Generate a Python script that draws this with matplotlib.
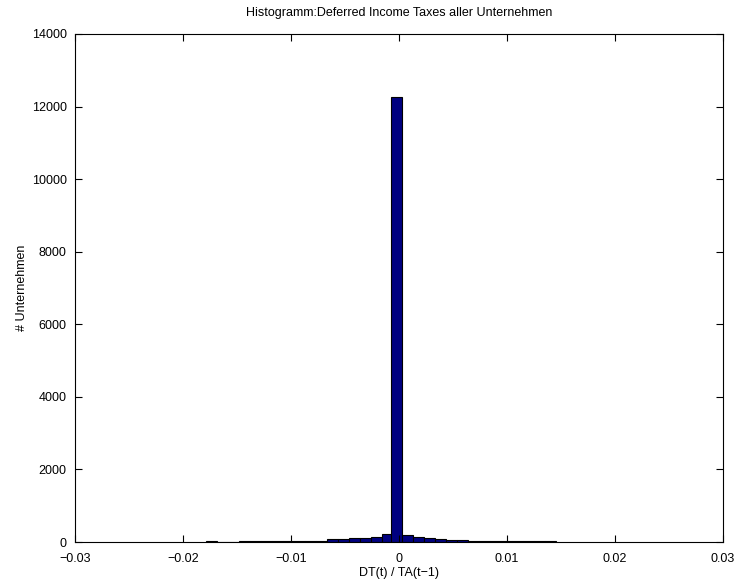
import numpy as np
import matplotlib
matplotlib.use("Agg")
import matplotlib.pyplot as plt

# Histogram data (bin width ~0.00102)
bin_width = 0.00102
bin_centers = [-0.01733, -0.01631, -0.01529, -0.01427, -0.01325, -0.01223,
               -0.01121, -0.01019, -0.00917, -0.00815, -0.00713, -0.00611,
               -0.00509, -0.00407, -0.00305, -0.00203, -0.00101, -0.00023,
               0.00079, 0.00181, 0.00283, 0.00385, 0.00487, 0.00589,
               0.00691, 0.00793, 0.00895, 0.00997, 0.01099, 0.01201,
               0.01303, 0.01405]
counts = [30, 0, 0, 20, 20, 25, 25, 25, 30, 30, 35, 70,
          80, 100, 120, 140, 220, 12250, 200, 150, 110, 70,
          60, 50, 25, 20, 20, 20, 20, 20, 20, 15]

xticks = [-0.03, -0.02, -0.01, 0, 0.01, 0.02, 0.03]
xticklabels = ["\u22120.03", "\u22120.02", "\u22120.01", "0", "0.01", "0.02", "0.03"]
yticks = [0, 2000, 4000, 6000, 8000, 10000, 12000, 14000]

plt.rcParams['font.family'] = ['Liberation Sans', 'DejaVu Sans']

fig = plt.figure(figsize=(7.39, 5.82), dpi=100)
ax = fig.add_axes([0.1015, 0.0687, 0.8765, 0.8729])

ax.bar(bin_centers, counts, width=bin_width, color='#000080',
       edgecolor='black', linewidth=0.8)

ax.set_xlim(-0.03, 0.03)
ax.set_ylim(0, 14000)
ax.set_xticks(xticks)
ax.set_xticklabels(xticklabels)
ax.set_yticks(yticks)

# MATLAB-like ticks: inside, on all sides
ax.tick_params(direction='in', top=True, right=True, labelsize=9,
               length=5, width=0.8)
ax.tick_params(axis='x', pad=8)
ax.tick_params(axis='y', pad=6)
for s in ax.spines.values():
    s.set_linewidth(0.8)

ax.set_title("Histogramm:Deferred Income Taxes aller Unternehmen", fontsize=9, pad=13)
ax.set_xlabel("DT(t) / TA(t\u22121)", fontsize=9, labelpad=1)
ax.set_ylabel("# Unternehmen", fontsize=9, labelpad=3)

fig.savefig("out.png", dpi=100)
